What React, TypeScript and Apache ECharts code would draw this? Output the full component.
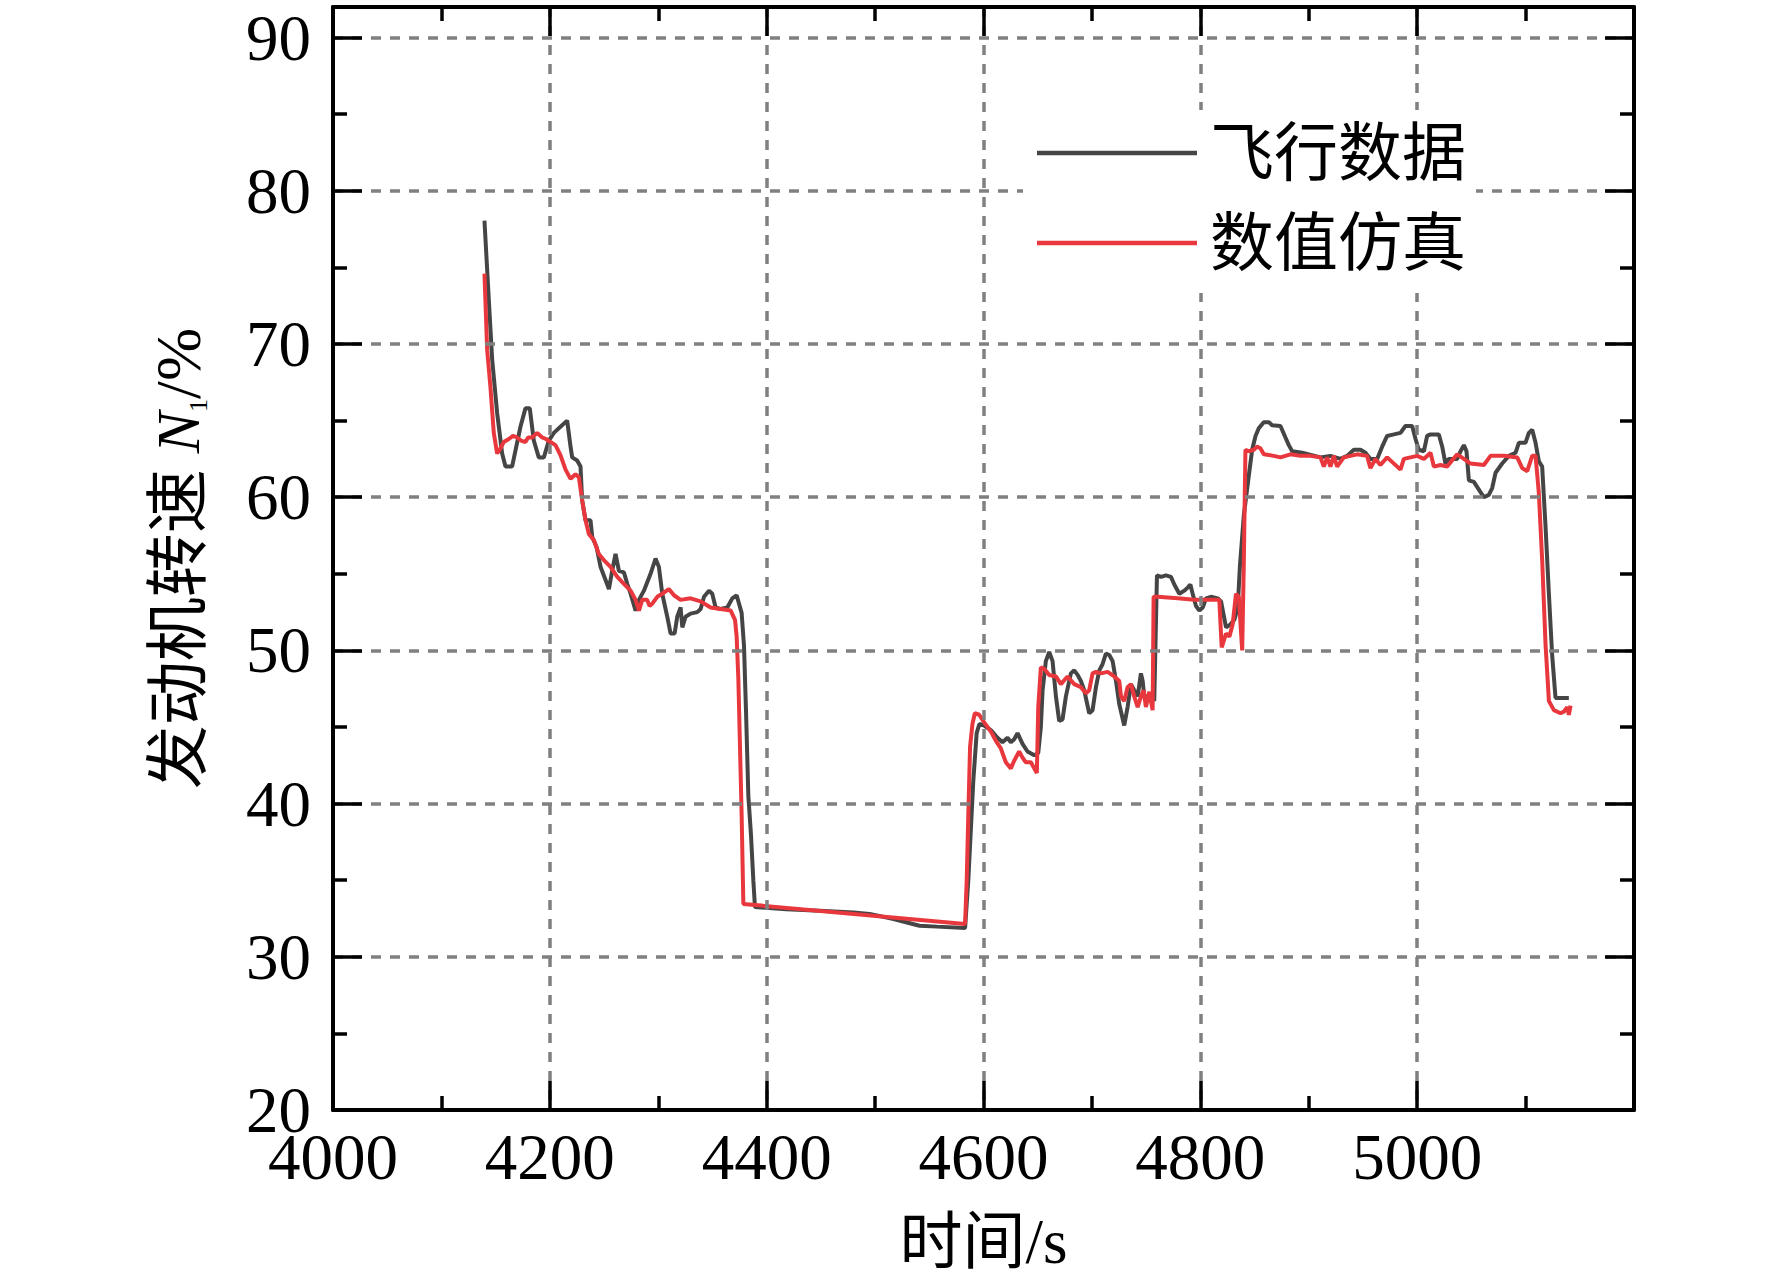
import React, { useEffect, useRef } from "react";
import * as echarts from "echarts";

const FONT = '"Liberation Serif", "Times New Roman", "Noto Sans CJK SC", serif';

const seriesNames = ["飞行数据", "数值仿真"];
const xAxisTitle = "时间/s";
const yMajorTicks = [20, 30, 40, 50, 60, 70, 80, 90];
const yMinorTicks = [25, 35, 45, 55, 65, 75, 85];

const flightTime = [
  4139.7, 4143.7, 4146.8, 4151.4, 4156.0, 4159.1, 4165.2, 4172.9, 4177.5, 4181.5,
  4185.2, 4189.8, 4194.5, 4199.1, 4203.7, 4209.8, 4216.0, 4219.1, 4220.6, 4225.2,
  4228.3, 4229.8, 4232.9, 4237.5, 4239.1, 4243.1, 4246.8, 4251.4, 4254.5, 4257.5,
  4260.6, 4263.7, 4268.3, 4271.4, 4274.5, 4279.1, 4282.2, 4286.8, 4292.9, 4297.5,
  4300.6, 4303.7, 4308.3, 4311.4, 4315.1, 4317.5, 4320.6, 4322.2, 4325.2, 4329.8,
  4336.0, 4339.1, 4342.2, 4346.8, 4349.8, 4352.9, 4357.5, 4363.7, 4368.3, 4372.3,
  4376.9, 4379.1, 4381.0, 4383.1, 4385.5, 4387.7, 4389.2, 4418, 4449, 4480,
  4495, 4517, 4541, 4557, 4583, 4586, 4590.6, 4593.7, 4596.2, 4600.6,
  4606.8, 4612.9, 4617.5, 4622.2, 4625.2, 4628.3, 4631.4, 4636.0, 4640.6, 4646.8,
  4650.5, 4652.9, 4654.5, 4657.5, 4660.6, 4663.7, 4666.8, 4669.8, 4672.9, 4676.0,
  4680.6, 4683.7, 4686.8, 4689.8, 4692.9, 4697.5, 4700.6, 4703.7, 4706.8, 4709.8,
  4712.9, 4716.0, 4719.1, 4722.2, 4725.2, 4729.8, 4732.9, 4736.0, 4739.0, 4742.2,
  4745.2, 4746.8, 4748.3, 4751.4, 4754.5, 4757.5, 4760.0, 4763.7, 4768.3, 4772.9,
  4776.0, 4780.6, 4785.2, 4788.3, 4790.8, 4792.9, 4796.0, 4799.1, 4802.2, 4805.2,
  4809.8, 4816.0, 4819.1, 4823.7, 4827.8, 4831.4, 4834.5, 4836.5, 4840.1, 4844.7,
  4847.8, 4850.9, 4853.9, 4858.5, 4863.2, 4866.2, 4873.9, 4878.5, 4881.6, 4884.7,
  4893.9, 4910.8, 4920.0, 4929.3, 4935.4, 4941.6, 4947.7, 4952.3, 4956.9, 4963.1,
  4967.7, 4972.3, 4978.5, 4984.6, 4989.2, 4995.4, 4998.5, 5001.5, 5006.2, 5009.2,
  5012.3, 5020.0, 5023.1, 5026.1, 5029.2, 5036.9, 5040.0, 5043.1, 5045.5, 5047.7,
  5052.3, 5056.9, 5061.5, 5066.1, 5069.2, 5072.3, 5078.4, 5084.6, 5090.7, 5093.8,
  5099.9, 5103.0, 5106.1, 5109.2, 5112.2, 5115.3, 5118.4, 5121.5, 5124.5, 5127.6,
  5139.9,
];
const flightN1 = [
  78.06, 72.9, 69.0, 65.5, 62.85, 62.0, 62.0, 64.6, 65.8, 65.8,
  63.7, 62.6, 62.6, 63.7, 64.2, 64.6, 65.0, 63.3, 62.6, 62.4,
  62.0, 59.8, 58.5, 58.5, 57.4, 56.75, 55.45, 54.6, 54.0, 55.2,
  56.3, 55.2, 55.1, 54.35, 53.7, 52.6, 53.3, 53.9, 55.0, 56.0,
  55.45, 53.7, 52.2, 51.1, 51.1, 52.2, 52.8, 51.5, 52.2, 52.4,
  52.5, 52.7, 53.5, 53.9, 53.7, 52.8, 52.7, 52.8, 53.4, 53.6,
  52.45, 50.3, 45.9, 40.5, 38.0, 35.0, 33.25, 33.1, 33.0, 32.9,
  32.8, 32.47, 32.03, 31.97, 31.88, 35.0, 41.5, 44.6, 45.2, 45.1,
  44.8, 44.3, 44.0, 44.3, 44.0, 44.2, 44.6, 43.9, 43.4, 43.15,
  43.3, 45.0, 47.4, 49.3, 49.9, 49.3, 47.0, 45.4, 45.5, 47.0,
  48.5, 48.7, 48.4, 48.0, 47.4, 45.9, 46.1, 47.6, 48.7, 49.1,
  49.8, 49.7, 49.3, 48.0, 46.5, 45.1, 46.3, 47.8, 47.4, 47.0,
  48.5, 48.0, 47.0, 47.0, 47.2, 46.7, 54.9, 54.8, 54.9, 54.8,
  54.3, 53.7, 53.9, 54.1, 54.3, 53.7, 52.9, 52.6, 52.8, 53.4,
  53.5, 53.4, 53.2, 51.5, 51.7, 52.0, 52.8, 55.5, 58.8, 61.4,
  63.1, 64.0, 64.5, 64.9, 64.9, 64.7, 64.65, 63.9, 63.4, 63.0,
  62.9, 62.6, 62.7, 62.5, 62.7, 63.1, 63.1, 62.9, 62.5, 62.5,
  63.3, 64.0, 64.1, 64.2, 64.65, 64.65, 63.8, 63.1, 63.0, 64.0,
  64.1, 64.1, 63.3, 62.2, 62.5, 62.5, 63.0, 63.4, 63.0, 61.1,
  61.0, 60.5, 60.0, 60.15, 60.6, 61.6, 62.2, 62.7, 62.9, 63.55,
  63.55, 64.2, 64.4, 63.55, 62.35, 62.0, 58.1, 53.7, 49.7, 46.9,
  46.9,
];

const simTime = [
  4139.7, 4142.2, 4145.2, 4148.3, 4151.4, 4154.5, 4157.5, 4162.2, 4166.0, 4169.8,
  4173.5, 4177.5, 4180.0, 4183.7, 4188.3, 4192.9, 4196.5, 4200.6, 4205.2, 4209.8,
  4214.5, 4219.1, 4223.7, 4226.8, 4229.8, 4232.9, 4236.0, 4240.6, 4245.2, 4249.8,
  4256.0, 4262.2, 4268.3, 4274.5, 4279.1, 4282.2, 4285.2, 4289.8, 4292.0, 4294.5,
  4299.1, 4303.7, 4309.8, 4314.5, 4320.6, 4329.8, 4339.1, 4348.3, 4357.5, 4366.8,
  4370.8, 4372.3, 4373.9, 4375.4, 4376.9, 4378.5, 4583.0, 4584.5, 4586.0, 4587.6,
  4589.8, 4592.0, 4596.0, 4600.6, 4606.8, 4611.4, 4616.0, 4620.6, 4625.2, 4628.3,
  4632.9, 4636.0, 4639.0, 4643.7, 4646.8, 4649.2, 4650.5, 4652.9, 4656.0, 4660.6,
  4666.8, 4671.4, 4677.5, 4683.7, 4689.8, 4694.5, 4697.5, 4700.6, 4703.7, 4708.3,
  4714.5, 4720.6, 4725.2, 4726.8, 4729.8, 4732.9, 4736.0, 4739.0, 4742.2, 4745.2,
  4747.7, 4749.8, 4752.9, 4756.0, 4756.9, 4760.6, 4779.1, 4794.5, 4817.5, 4819.7,
  4823.7, 4826.8, 4829.8, 4832.9, 4835.5, 4838.6, 4840.1, 4841.6, 4844.7, 4849.3,
  4852.3, 4855.4, 4858.5, 4867.7, 4873.9, 4883.1, 4892.3, 4901.5, 4910.8, 4913.9,
  4917.0, 4920.0, 4923.1, 4926.2, 4932.3, 4944.6, 4953.8, 4956.9, 4961.5, 4966.1,
  4972.3, 4984.6, 4987.7, 5000.0, 5006.2, 5012.3, 5015.4, 5021.5, 5027.7, 5036.9,
  5043.1, 5049.2, 5061.5, 5067.7, 5080.0, 5092.3, 5096.9, 5101.5, 5106.1, 5109.2,
  5112.2, 5115.3, 5118.4, 5121.5, 5126.1, 5132.2, 5135.3, 5138.4, 5139.9, 5141.5,
];
const simN1 = [
  74.6, 69.6, 67.2, 64.2, 62.85, 63.2, 63.6, 63.8, 64.0, 63.9,
  63.7, 63.6, 63.9, 63.9, 64.2, 63.9, 63.8, 63.6, 63.4, 62.75,
  61.8, 61.2, 61.5, 61.3, 59.8, 58.5, 57.6, 57.2, 56.3, 55.9,
  55.45, 54.8, 54.35, 53.9, 53.3, 52.6, 53.3, 53.3, 52.9, 53.05,
  53.5, 53.7, 54.0, 53.6, 53.3, 53.4, 53.2, 52.8, 52.7, 52.6,
  52.0, 50.9, 48.1, 43.7, 39.3, 33.45, 32.14, 35.0, 39.3, 43.7,
  45.2, 45.9, 45.8, 45.3, 44.7, 44.1, 43.6, 42.7, 42.3, 42.8,
  43.4, 43.0, 42.7, 42.7, 42.3, 42.0, 46.3, 48.9, 48.8, 48.4,
  48.3, 47.8, 48.3, 47.8, 47.6, 47.2, 47.4, 48.5, 48.6, 48.5,
  48.6, 48.3, 48.0, 47.0, 46.7, 47.6, 47.8, 47.0, 46.3, 47.0,
  47.4, 46.3, 47.3, 46.1, 53.5, 53.5, 53.4, 53.3, 53.3, 50.2,
  51.1, 50.9, 51.7, 53.7, 53.5, 50.0, 55.7, 63.1, 63.0, 63.1,
  63.3, 63.2, 62.8, 62.7, 62.6, 62.8, 62.7, 62.7, 62.6, 62.0,
  62.6, 62.0, 62.7, 62.0, 62.6, 62.8, 62.7, 61.9, 62.5, 62.1,
  62.6, 61.8, 62.5, 62.7, 62.5, 62.9, 62.0, 62.1, 62.0, 62.8,
  62.5, 62.2, 62.1, 62.7, 62.7, 62.6, 61.9, 61.7, 62.7, 62.7,
  60.3, 55.9, 50.4, 46.7, 46.1, 45.9, 46.0, 46.3, 45.8, 46.4,
];

const zip = (xs: number[], ys: number[]) => xs.map((x, i) => [x, ys[i]]);

const AXIS_COLOR = "#000";
const GRID_LINE = { color: "#808080", width: 3.5, type: [10, 9] as number[] };

function baseX(position: "bottom" | "top", withLabels: boolean) {
  return {
    type: "value",
    position,
    min: 4000,
    max: 5200,
    interval: 200,
    axisLine: { show: true, onZero: false, lineStyle: { color: AXIS_COLOR, width: 4 } },
    axisTick: { show: true, inside: true, length: 29, lineStyle: { color: AXIS_COLOR, width: 3.5 } },
    minorTick: { show: true, splitNumber: 2, length: 14, lineStyle: { color: AXIS_COLOR, width: 3.5 } },
    axisLabel: withLabels
      ? {
          show: true,
          fontSize: 65,
          lineHeight: 50,
          color: "#000",
          fontFamily: FONT,
          margin: 22,
          showMaxLabel: false,
          formatter: (v: number) => String(v),
        }
      : { show: false },
    splitLine: withLabels ? { show: true, lineStyle: GRID_LINE } : { show: false },
    z: position === "top" ? 5 : 3,
  };
}

function baseY(position: "left" | "right", kind: "major" | "minor") {
  const major = kind === "major";
  const isMain = position === "left" && major;
  return {
    type: "value",
    position,
    min: 20,
    max: 92,
    interval: 10,
    axisLine: { show: major, onZero: false, lineStyle: { color: AXIS_COLOR, width: 4 } },
    axisTick: {
      show: true,
      inside: true,
      length: major ? 29 : 14,
      customValues: major ? yMajorTicks : yMinorTicks,
      lineStyle: { color: AXIS_COLOR, width: 3.5 },
    },
    axisLabel: isMain
      ? {
          show: true,
          fontSize: 65,
          lineHeight: 40,
          color: "#000",
          fontFamily: FONT,
          margin: 22,
          customValues: yMajorTicks,
          formatter: (v: number) => String(v),
        }
      : { show: false },
    splitLine: isMain ? { show: true, lineStyle: GRID_LINE } : { show: false },
    z: 3,
  };
}

export default function App() {
  const ref = useRef<HTMLDivElement>(null);

  useEffect(() => {
    document.body.style.margin = "0";
    if (!ref.current) return;
    const chart = echarts.init(ref.current, undefined, { renderer: "svg" });

    const xBottom: any = {
      ...baseX("bottom", true),
      name: xAxisTitle,
      nameLocation: "middle",
      nameGap: 100,
      nameTextStyle: { fontSize: 63, color: "#000", fontFamily: FONT },
    };
    const xTop: any = baseX("top", false);

    const yLeft: any = {
      ...baseY("left", "major"),
      name: "发动机转速 {i|N}{s|1}/%",
      nameLocation: "middle",
      nameGap: 122,
      nameTextStyle: {
        fontSize: 64,
        color: "#000",
        fontFamily: FONT,
        lineHeight: 66,
        rich: {
          i: { fontSize: 62, fontStyle: "italic", fontFamily: FONT, color: "#000", lineHeight: 66 },
          s: { fontSize: 26, fontFamily: FONT, color: "#000", verticalAlign: "bottom", lineHeight: 22 },
        },
      },
    };

    const option: any = {
      animation: false,
      backgroundColor: "#fff",
      grid: {
        left: 333,
        right: 138,
        top: 7,
        bottom: 176,
        containLabel: false,
        outerBoundsMode: "none",
      },
      legend: {
        show: true,
        orient: "vertical",
        left: 1023,
        top: 110,
        backgroundColor: "#fff",
        padding: [11, 10, 18, 14],
        icon: "rect",
        itemWidth: 160,
        itemHeight: 4.5,
        itemGap: 26,
        selectedMode: false,
        textStyle: {
          fontSize: 64,
          lineHeight: 64,
          color: "#000",
          fontFamily: FONT,
          padding: [0, 0, 0, 8],
        },
        data: seriesNames,
        z: 6,
      },
      xAxis: [xBottom, xTop],
      yAxis: [
        yLeft,
        baseY("left", "minor"),
        baseY("right", "major"),
        baseY("right", "minor"),
      ],
      series: [
        {
          name: seriesNames[0],
          type: "line",
          xAxisIndex: 0,
          yAxisIndex: 0,
          data: zip(flightTime, flightN1),
          symbol: "none",
          showSymbol: false,
          lineStyle: { color: "#454545", width: 4 },
          itemStyle: { color: "#454545" },
          z: 2,
        },
        {
          name: seriesNames[1],
          type: "line",
          xAxisIndex: 0,
          yAxisIndex: 0,
          data: zip(simTime, simN1),
          symbol: "none",
          showSymbol: false,
          lineStyle: { color: "#e8383d", width: 4 },
          itemStyle: { color: "#e8383d" },
          z: 2,
        },
      ],
    };

    chart.setOption(option);
    return () => chart.dispose();
  }, []);

  return <div ref={ref} style={{ width: 1772, height: 1286 }} />;
}
